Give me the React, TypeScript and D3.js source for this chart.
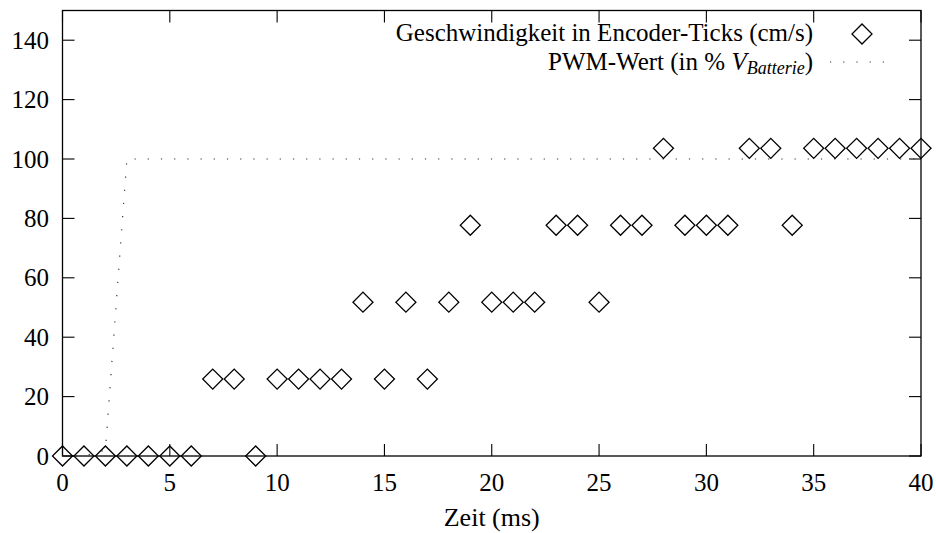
import React from "react";
import * as d3 from "d3";

// time axis (ms)
const time = [0, 1, 2, 3, 4, 5, 6, 7, 8, 9, 10, 11, 12, 13, 14, 15, 16, 17, 18, 19, 20,
  21, 22, 23, 24, 25, 26, 27, 28, 29, 30, 31, 32, 33, 34, 35, 36, 37, 38, 39, 40];

// encoder speed per ms (cm/s)
const speed = [0, 0, 0, 0, 0, 0, 0, 25.9, 25.9, 0, 25.9, 25.9, 25.9, 25.9, 51.8, 25.9, 51.8, 25.9, 51.8, 77.7, 51.8,
  51.8, 51.8, 77.7, 77.7, 51.8, 77.7, 77.7, 103.6, 77.7, 77.7, 77.7, 103.6, 103.6, 77.7, 103.6, 103.6, 103.6, 103.6, 103.6, 103.6];

// PWM value in % of battery voltage
const pwm = [0, 0, 2, 100, 100, 100, 100, 100, 100, 100, 100, 100, 100, 100, 100, 100, 100, 100, 100, 100, 100,
  100, 100, 100, 100, 100, 100, 100, 100, 100, 100, 100, 100, 100, 100, 100, 100, 100, 100, 100, 100];

const xTicks = [0, 5, 10, 15, 20, 25, 30, 35, 40];
const yTicks = [0, 20, 40, 60, 80, 100, 120, 140];

const xLabel = "Zeit (ms)";
const legendSpeed = "Geschwindigkeit in Encoder-Ticks (cm/s)";

const W = 936, H = 533;
const FONT = "Liberation Serif, Times New Roman, serif";
const margin = { top: 10.5, right: 15, bottom: 77, left: 62.5 };
const width = W - margin.left - margin.right;
const height = H - margin.top - margin.bottom;
const TICK = 12;

export default function App() {
  const x = d3.scaleLinear().domain([0, 40]).range([0, width]);
  const y = d3.scaleLinear().domain([0, 150]).range([height, 0]);

  const line = d3.line<number>()
    .x((d, i) => x(time[i]))
    .y((d) => y(d));
  const diamond = d3.symbol().type(d3.symbolSquare).size(200)() as string;

  return (
    <svg width={W} height={H} fontFamily={FONT}
         style={{ position: "absolute", left: 0, top: 0, background: "#fff" }}>
      <g transform={`translate(${margin.left},${margin.top})`}>
        {/* ticks on all four sides, pointing inward */}
        {xTicks.map((t) => (
          <g key={"x" + t}>
            <line x1={x(t)} x2={x(t)} y1={height} y2={height - TICK} stroke="#000" strokeWidth={1.1} />
            <line x1={x(t)} x2={x(t)} y1={0} y2={TICK} stroke="#000" strokeWidth={1.1} />
            <text x={x(t)} y={height + 35} textAnchor="middle" fontSize={25}>{t}</text>
          </g>
        ))}
        {yTicks.map((t) => (
          <g key={"y" + t}>
            <line x1={0} x2={TICK} y1={y(t)} y2={y(t)} stroke="#000" strokeWidth={1.1} />
            <line x1={width} x2={width - TICK} y1={y(t)} y2={y(t)} stroke="#000" strokeWidth={1.1} />
            <text x={-13.5} y={y(t) + 8.5} textAnchor="end" fontSize={25}>{t}</text>
          </g>
        ))}
        <rect width={width} height={height} fill="none" stroke="#000" strokeWidth={1.3} />

        <text x={width / 2} y={height + 70} textAnchor="middle" fontSize={26}>{xLabel}</text>

        {/* PWM, dotted */}
        <path d={line(pwm) as string} fill="none" stroke="#333" strokeWidth={1.2} strokeDasharray="1.2,12" />

        {/* speed, diamonds */}
        {speed.map((v, i) => (
          <path key={i} d={diamond} transform={`translate(${x(time[i])},${y(v)}) rotate(45)`}
                fill="none" stroke="#000" strokeWidth={1.3} />
        ))}
      </g>

      {/* legend */}
      <text x={813} y={41} textAnchor="end" fontSize={25}>{legendSpeed}</text>
      <path d={diamond} transform="translate(862,34) rotate(45)" fill="none" stroke="#000" strokeWidth={1.3} />
      <text x={813} y={70} textAnchor="end" fontSize={25}>
        <tspan>PWM-Wert (in % </tspan>
        <tspan fontStyle="italic">V</tspan>
        <tspan fontStyle="italic" fontSize={18} dy={4}>Batterie</tspan>
        <tspan dy={-4}>)</tspan>
      </text>
      <line x1={830} x2={896} y1={62} y2={62} stroke="#333" strokeWidth={1.2} strokeDasharray="1.2,12" />
    </svg>
  );
}
